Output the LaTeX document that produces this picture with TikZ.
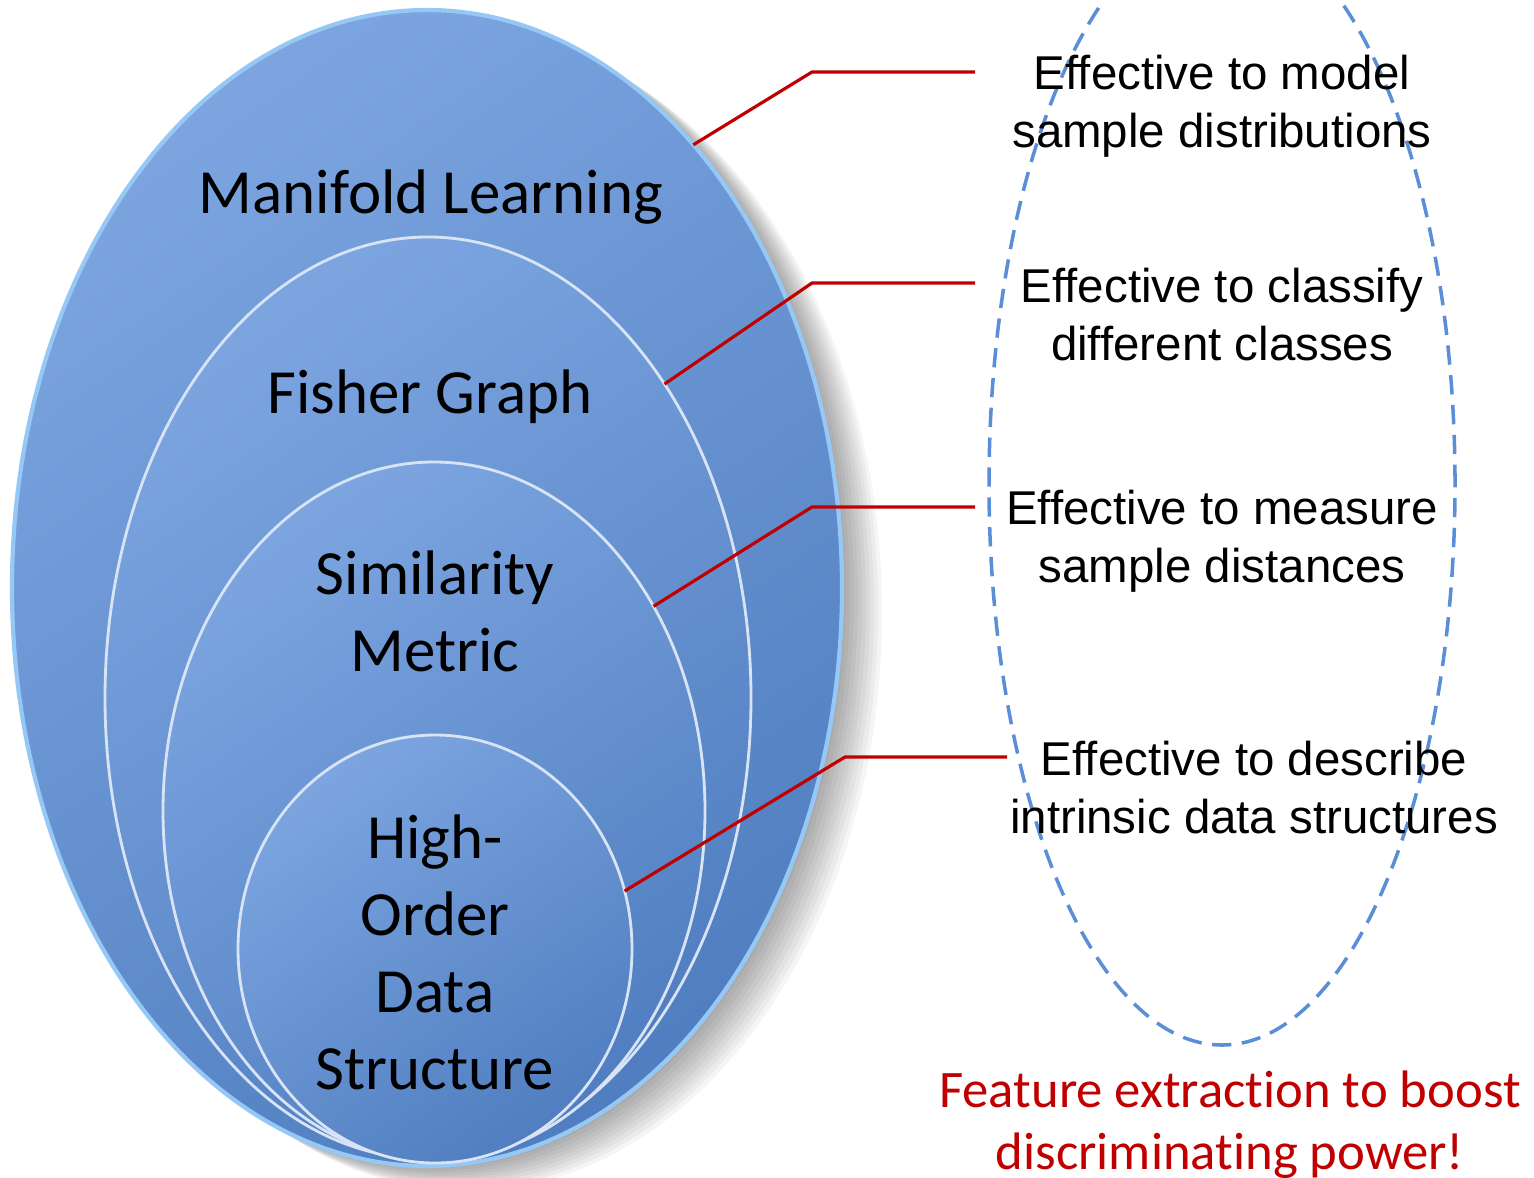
\documentclass[tikz,border=0pt]{standalone}
\usepackage{fontspec}
\setmainfont{Liberation Sans}
\newfontfamily\carlito[Ligatures=NoCommon]{Carlito}
\usetikzlibrary{shapes.geometric}
\definecolor{figlight}{RGB}{124,165,224}
\definecolor{figdark}{RGB}{80,126,192}
\definecolor{figrim}{RGB}{150,200,245}
\definecolor{figred}{RGB}{192,0,0}
\definecolor{figdash}{RGB}{90,142,214}
\tikzstyle{layer} = [ellipse, inner sep=0pt, outer sep=0pt,
top color=figlight, bottom color=figdark, shading angle=35,
draw=white!70!figlight, line width=0.8pt]
\tikzstyle{layertext} = [font=\carlito\fontsize{17.9}{21.9}\selectfont, align=center]
\tikzstyle{note} = [font=\fontsize{13.5}{16.5}\selectfont, align=center]
\tikzstyle{goal} = [font=\carlito\fontsize{15}{17.6}\selectfont, align=center, text=figred]
\tikzstyle{link} = [draw=figred, line width=0.9pt]
\tikzstyle{group} = [ellipse, draw=figdash, dash pattern=on 5.5pt off 3pt,
line width=1pt, inner sep=0pt]

\begin{document}
\begin{tikzpicture}
    \useasboundingbox (0,0) rectangle (15.34,11.77);
    \clip (0,0) rectangle (15.34,11.77);

    % soft shadow behind the outer layer
    \foreach \s in {1,...,10}
        \fill[black, opacity=0.04] ({4.27+0.04*\s},{5.89-0.025*\s}) ellipse [x radius=4.15, y radius=5.78];

    % nested layers
    \node (ml) [layer, draw=figrim, line width=1.2pt, minimum width=8.3cm, minimum height=11.56cm] at (4.27,5.89) {};
    \node (fg) [layer, minimum width=6.46cm, minimum height=9.22cm] at (4.28,4.79) {};
    \node (sm) [layer, minimum width=5.42cm, minimum height=6.98cm] at (4.34,3.66) {};
    \node (ho) [layer, minimum width=3.94cm, minimum height=4.28cm] at (4.35,2.28) {};

    \node (mltext) [layertext] at (4.31,9.80) {Manifold Learning};
    \node (fgtext) [layertext] at (4.30,7.80) {Fisher Graph};
    \node (smtext) [layertext] at (4.35,5.66) {Similarity\\Metric};
    \node (hotext) [layertext] at (4.35,2.25) {High-\\Order\\Data\\Structure};

    % dashed group on the right
    \node (grp) [group, minimum width=4.66cm, minimum height=11.22cm] at (12.22,6.93) {};

    \node (t1) [note] at (12.22,10.71) {Effective to model\\sample distributions};
    \node (t2) [note] at (12.22,8.62) {Effective to classify\\different classes};
    \node (t3) [note] at (12.22,6.36) {Effective to measure\\sample distances};
    \node (t4) [note] at (12.54,3.89) {Effective to describe\\intrinsic data structures};

    \node (boost) [goal] at (12.30,0.52) {Feature extraction to boost\\discriminating power!};

    % callout lines
    \coordinate (k1) at (8.12,11.05);
    \coordinate (e1) at (9.75,11.05);
    \coordinate (k2) at (8.12,8.94);
    \coordinate (e2) at (9.75,8.94);
    \coordinate (k3) at (8.12,6.70);
    \coordinate (e3) at (9.75,6.70);
    \coordinate (k4) at (8.45,4.20);
    \coordinate (e4) at (10.07,4.20);

    \draw[link] (ml.59) -- (k1) -- (e1);
    \draw[link] (fg.53) -- (k2) -- (e2);
    \draw[link] (sm.43) -- (k3) -- (e3);
    \draw[link] (ho.17) -- (k4) -- (e4);
\end{tikzpicture}
\end{document}
